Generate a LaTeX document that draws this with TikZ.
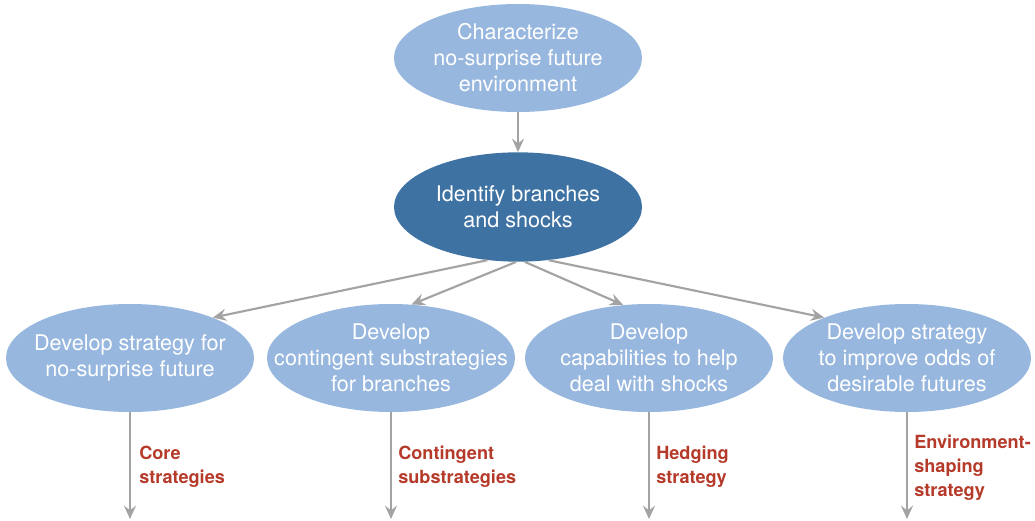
\documentclass[tikz,border=0pt]{standalone}
\usepackage{fontspec}
\setsansfont{TeX Gyre Heros}
\usepackage{tikz}
\usetikzlibrary{shapes}
\usetikzlibrary{arrows.meta}
\definecolor{stagefill}{HTML}{97B7DE}
\definecolor{keyfill}{HTML}{3E72A3}
\definecolor{flowgray}{HTML}{A3A3A3}
\definecolor{tagred}{HTML}{B53A2A}
\tikzset{stage/.style={ellipse, fill=stagefill, text=white, inner sep=-40pt,
    minimum width=186pt, minimum height=81pt, align=center,
    font=\sffamily\fontsize{16.2}{19.5}\selectfont}}
\tikzset{keystage/.style={stage, fill=keyfill, minimum height=82pt}}
\tikzset{flow/.style={draw=flowgray, line width=1.6pt, -{Stealth[length=10pt, width=9pt, inset=3.5pt]}}}
\tikzset{tag/.style={anchor=west, inner sep=0pt, text=tagred, align=left,
    font=\sffamily\bfseries\fontsize{13.6}{18}\selectfont}}

\begin{document}
\begin{tikzpicture}[x=0.75pt,y=-0.75pt]
    \useasboundingbox (0,0) rectangle (1035,521);
    \node[stage] (char) at (518,58) {Characterize\\no-surprise future\\environment};
    \node[keystage] (ident) at (518,207) {Identify branches\\and shocks};
    \draw[flow] (char) -- (ident);
    \foreach \x/\lab/\tx in {
      130/core/{Develop strategy for\\no-surprise future},
      391/cont/{Develop\\contingent substrategies\\for branches},
      649/hedge/{Develop\\capabilities to help\\deal with shocks},
      907/shape/{Develop strategy\\to improve odds of\\desirable futures}%
    } {
      \node[stage] (\lab) at (\x,358) {\tx};
      \coordinate (\lab end) at (\x,519);
      \draw[flow] (\lab.south) -- (\lab end);
    }
    \foreach \a/\v/\b in {
      240/core/26,
      268/cont/69,
      277/hedge/116,
      300/shape/154%
    }{
      \draw[flow] (ident.\a) -- (\v.\b);
    }
    \node[tag] (coretag) at (139,467) {Core\\strategies};
    \node[tag] (conttag) at (398,467) {Contingent\\substrategies};
    \node[tag] (hedgetag) at (656,467) {Hedging\\strategy};
    \node[tag] (shapetag) at (914,468) {Environment-\\shaping\\strategy};
  \end{tikzpicture}
\end{document}
